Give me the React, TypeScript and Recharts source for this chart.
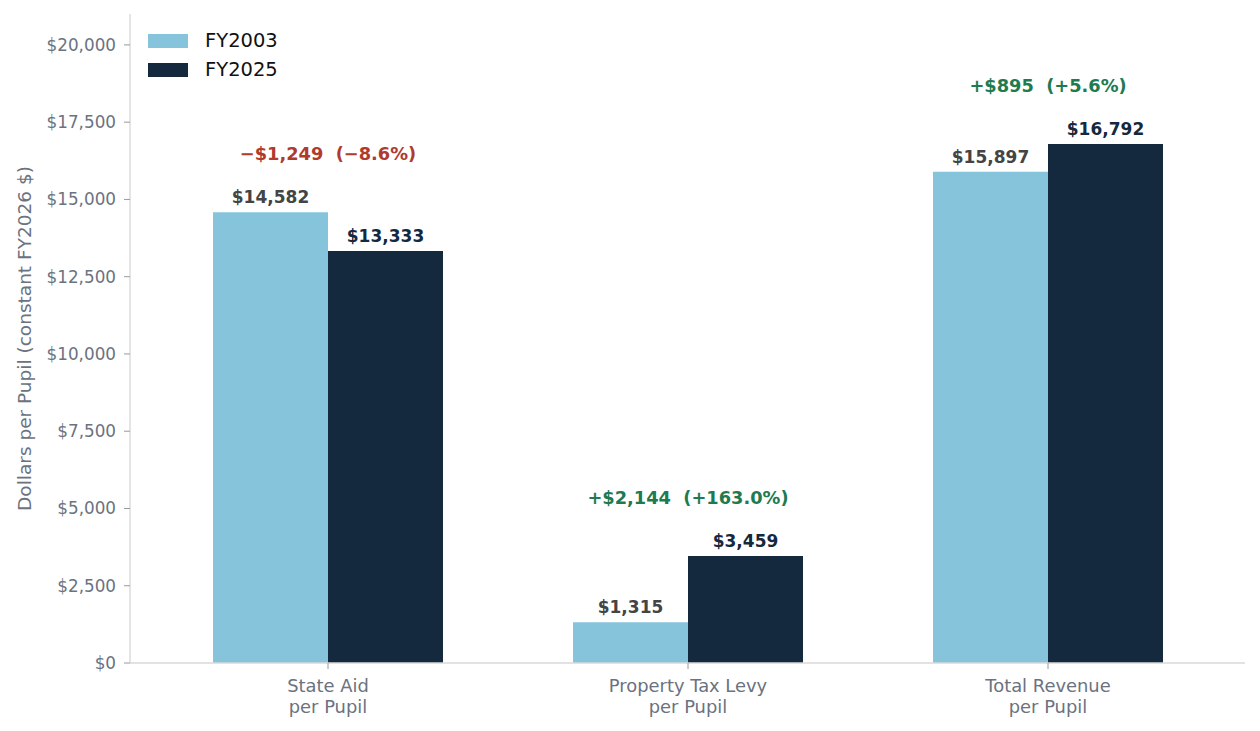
import React from "react";
import {
  BarChart,
  Bar,
  XAxis,
  YAxis,
  Legend,
  LabelList,
  ReferenceDot,
} from "recharts";

const CATEGORIES = ["State Aid\nper Pupil", "Property Tax Levy\nper Pupil", "Total Revenue\nper Pupil"];
const FY2003 = [14582, 1315, 15897];
const FY2025 = [13333, 3459, 16792];
const Y_TICKS = [0, 2500, 5000, 7500, 10000, 12500, 15000, 17500, 20000];
const CHANGE_OFFSET = 1890;

const LIGHT = "#86c4dc";
const NAVY = "#15293e";
const GREY_TEXT = "#6b7280";
const SPINE = "#d9d9d9";
const TICK = "#9a9a9a";
const RED = "#b03a2e";
const GREEN = "#1e7a50";
const FONT = "'DejaVu Sans', sans-serif";

const data = CATEGORIES.map((name, i) => ({
  name,
  fy2003: FY2003[i],
  fy2025: FY2025[i],
}));

const money = (v: number) => `$${Math.abs(v).toLocaleString("en-US")}`;
const sign = (v: number) => (v < 0 ? "\u2212" : "+");

function changeText(i: number) {
  const d = FY2025[i] - FY2003[i];
  const pct = (d / FY2003[i]) * 100;
  return `${sign(d)}${money(d)}  (${sign(pct)}${Math.abs(pct).toFixed(1)}%)`;
}

function CategoryTick({ x, y, payload }: any) {
  const lines = String(payload.value).split("\n");
  return (
    <text x={x} y={y} textAnchor="middle" fill={GREY_TEXT} fontSize={17.9} fontFamily={FONT}>
      {lines.map((l, i) => (
        <tspan key={i} x={x} dy={21}>
          {l}
        </tspan>
      ))}
    </text>
  );
}

function valueLabel(color: string) {
  return (props: any) => {
    const { x, y, width, value } = props;
    return (
      <text
        x={x + width / 2}
        y={y - 9}
        textAnchor="middle"
        fill={color}
        fontSize={17}
        fontWeight="bold"
        fontFamily={FONT}
      >
        {money(value)}
      </text>
    );
  };
}

function LegendBox() {
  const items = [
    { label: "FY2003", color: LIGHT },
    { label: "FY2025", color: NAVY },
  ];
  return (
    <div style={{ fontFamily: FONT, fontSize: 19.5, color: "#111", textAlign: "left" }}>
      {items.map((it) => (
        <div key={it.label} style={{ display: "flex", alignItems: "center", height: 29 }}>
          <span style={{ width: 40, height: 14, background: it.color, display: "inline-block", marginRight: 17 }} />
          <span>{it.label}</span>
        </div>
      ))}
    </div>
  );
}

export default function App() {
  return (
    <div style={{ position: "absolute", left: 0, top: 0, background: "#fff" }}>
      <BarChart
        width={1260}
        height={731}
        data={data}
        margin={{ top: 14, right: 15, bottom: 0, left: 0 }}
        barGap={0}
      >
        <XAxis
          dataKey="name"
          height={68}
          padding={{ left: 18, right: 17 }}
          axisLine={{ stroke: SPINE, strokeWidth: 1.4 }}
          tickLine={{ stroke: TICK }}
          tickSize={6}
          tickMargin={2}
          tick={<CategoryTick />}
          interval={0}
        />
        <YAxis
          width={130}
          domain={[0, 21000]}
          ticks={Y_TICKS}
          allowDataOverflow
          axisLine={{ stroke: SPINE, strokeWidth: 1.4 }}
          tickLine={{ stroke: TICK }}
          tickSize={6}
          tickMargin={8}
          tick={{ fill: GREY_TEXT, fontSize: 16.8, fontFamily: FONT }}
          tickFormatter={(v: number) => money(v)}
          label={{
            content: ({ viewBox }: any) => {
              const cx = viewBox.x + 24;
              const cy = viewBox.y + viewBox.height / 2;
              return (
                <text
                  x={cx}
                  y={cy}
                  transform={`rotate(-90 ${cx} ${cy})`}
                  textAnchor="middle"
                  dominantBaseline="central"
                  fill={GREY_TEXT}
                  fontSize={18.5}
                  fontFamily={FONT}
                >
                  Dollars per Pupil (constant FY2026 $)
                </text>
              );
            },
          }}
        />
        <Legend
          verticalAlign="middle"
          align="center"
          layout="horizontal"
          content={<LegendBox />}
          wrapperStyle={{ left: 148, top: 26, width: 200 }}
        />
        <Bar dataKey="fy2003" name="FY2003" fill={LIGHT} barSize={115} isAnimationActive={false}>
          <LabelList dataKey="fy2003" content={valueLabel("#444444")} />
        </Bar>
        <Bar dataKey="fy2025" name="FY2025" fill={NAVY} barSize={115} isAnimationActive={false}>
          <LabelList dataKey="fy2025" content={valueLabel(NAVY)} />
        </Bar>
        {CATEGORIES.map((c, i) => {
          const d = FY2025[i] - FY2003[i];
          return (
            <ReferenceDot
              key={c}
              x={c}
              y={Math.max(FY2003[i], FY2025[i]) + CHANGE_OFFSET}
              r={0}
              ifOverflow="visible"
              shape={(p: any) => (
                <text
                  x={p.cx}
                  y={p.cy + 6}
                  textAnchor="middle"
                  fill={d < 0 ? RED : GREEN}
                  fontSize={17.8}
                  fontWeight="bold"
                  fontFamily={FONT}
                  style={{ whiteSpace: "pre" }}
                >
                  {changeText(i)}
                </text>
              )}
            />
          );
        })}
      </BarChart>
    </div>
  );
}
